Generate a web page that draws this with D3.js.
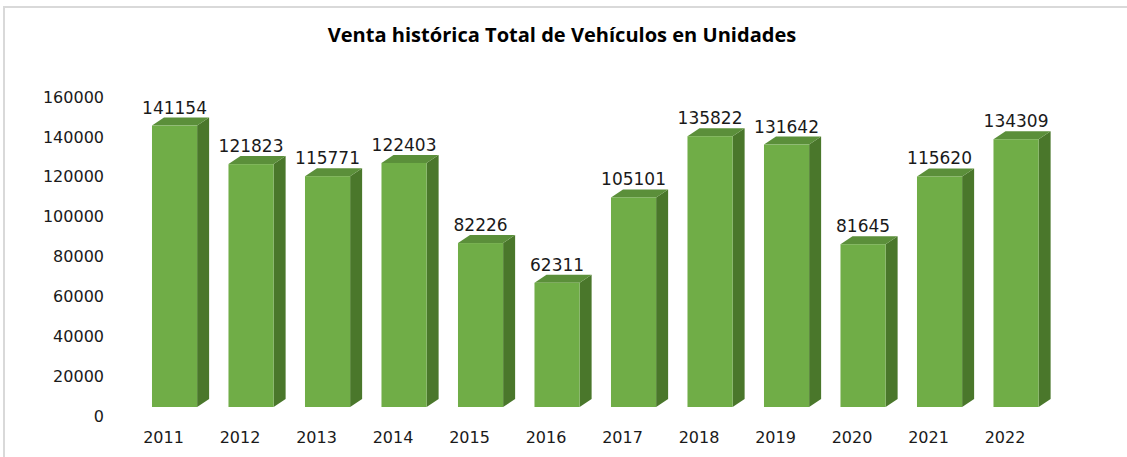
<!DOCTYPE html>
<html>
<head>
<meta charset="utf-8">
<script src="https://cdn.jsdelivr.net/npm/d3@7"></script>
<style>
  body { margin: 0; background: #fff; }
  svg { display: block; }
</style>
</head>
<body>
<main></main>
<script>
const years = ["2011", "2012", "2013", "2014", "2015", "2016", "2017", "2018", "2019", "2020", "2021", "2022"];
const sales = [141154, 121823, 115771, 122403, 82226, 62311, 105101, 135822, 131642, 81645, 115620, 134309];
const yTicks = [0, 20000, 40000, 60000, 80000, 100000, 120000, 140000, 160000];
const title = "Venta histórica Total de Vehículos en Unidades";

const w = 1127;
const h = 457;
const depthX = 12;
const depthY = -8;

const svg = d3.select("main")
  .append("svg")
  .attr("width", w)
  .attr("height", h);

// chart frame (only top and left edges are visible in the crop)
svg.append("path")
  .attr("d", `M4,${h} L4,7 L${w},7`)
  .attr("fill", "none")
  .attr("stroke", "#d9d9d9")
  .attr("stroke-width", 2);

const x = d3.scaleBand()
  .domain(years)
  .range([136.3, 1054.3])
  .paddingInner(0.41)
  .paddingOuter(0.205);

const y = d3.scaleLinear()
  .domain([0, 160000])
  .range([407, 88]);

const titleText = svg.append("text")
  .attr("x", 562)
  .attr("y", 42)
  .attr("text-anchor", "middle")
  .style("font-family", "'Open Sans', sans-serif")
  .style("font-weight", "bold")
  .style("font-size", "18px")
  .attr("fill", "#000")
  .text(title);
const tl = titleText.node().getComputedTextLength();
titleText.style("font-size", (18 * 469 / tl) + "px");

// value axis
const yAxis = svg.append("g")
  .attr("transform", "translate(104,9)")
  .call(d3.axisLeft(y).tickValues(yTicks).tickSize(0).tickPadding(0).tickFormat(d3.format("d")));
yAxis.select(".domain").remove();
yAxis.selectAll("text")
  .style("font-family", "'DejaVu Sans', sans-serif")
  .style("font-size", "16px")
  .attr("fill", "#1a1a1a");

// year labels
svg.selectAll("text.year")
  .data(years)
  .enter()
  .append("text")
  .attr("class", "year")
  .attr("x", d => x(d) + x.bandwidth() / 2 - 11)
  .attr("y", 443)
  .attr("text-anchor", "middle")
  .style("font-family", "'DejaVu Sans', sans-serif")
  .style("font-size", "16px")
  .attr("fill", "#1a1a1a")
  .text(d => d);

const data = years.map((yr, i) => ({ year: yr, value: sales[i] }));

const bars = svg.selectAll("g.bar")
  .data(data)
  .enter()
  .append("g")
  .attr("class", "bar");

// side face
bars.append("path")
  .attr("d", d => {
    const x1 = x(d.year) + x.bandwidth();
    const yt = y(d.value);
    const yb = y(0);
    return `M${x1},${yt} L${x1 + depthX},${yt + depthY} L${x1 + depthX},${yb + depthY} L${x1},${yb} Z`;
  })
  .attr("fill", "#4a772b");

// top face
bars.append("path")
  .attr("d", d => {
    const x0 = x(d.year);
    const x1 = x0 + x.bandwidth();
    const yt = y(d.value);
    return `M${x0},${yt} L${x0 + depthX},${yt + depthY} L${x1 + depthX},${yt + depthY} L${x1},${yt} Z`;
  })
  .attr("fill", "#5b8f3a");

// front face
bars.append("rect")
  .attr("x", d => x(d.year))
  .attr("y", d => y(d.value))
  .attr("width", x.bandwidth())
  .attr("height", d => y(0) - y(d.value))
  .attr("fill", "#70ad47");

// data labels
svg.selectAll("text.value")
  .data(data)
  .enter()
  .append("text")
  .attr("class", "value")
  .attr("x", d => x(d.year) + x.bandwidth() / 2)
  .attr("y", d => y(d.value) - 12)
  .attr("text-anchor", "middle")
  .style("font-family", "'DejaVu Sans', sans-serif")
  .style("font-size", "17px")
  .attr("fill", "#1a1a1a")
  .text(d => d.value);
</script>
</body>
</html>
